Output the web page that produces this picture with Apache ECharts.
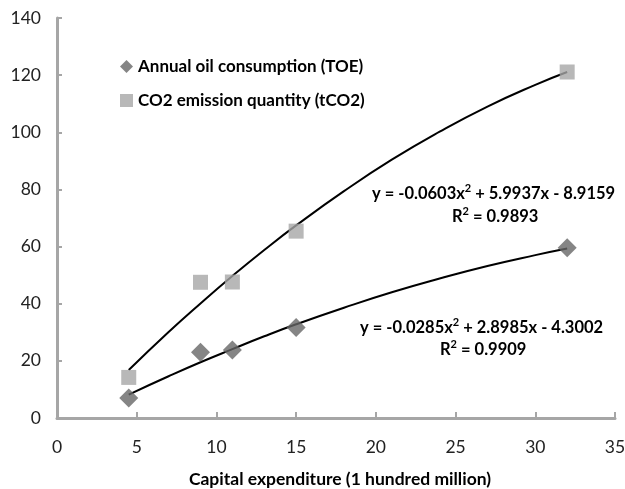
<!DOCTYPE html>
<html><head><meta charset="utf-8">
<script src="https://cdn.jsdelivr.net/npm/echarts@6/dist/echarts.min.js"></script>
<style>html,body{margin:0;padding:0;background:#fff}#c{width:625px;height:489px}</style>
</head><body><div id="c"></div>
<script>
const xValues = [4.5, 9, 11, 15, 32];
const oilValues = [7, 23, 23.8, 31.7, 59.6];
const co2Values = [14.2, 47.5, 47.6, 65.4, 121.1];
const trendX = [4.5, 7, 9, 11, 13, 15, 18, 21, 24, 27, 30, 32];
const co2Trend = [16.8, 30.1, 40.1, 49.7, 58.8, 67.4, 79.4, 90.4, 100.2, 109.0, 116.6, 121.1];
const oilTrend = [8.2, 14.6, 19.5, 24.1, 28.6, 32.8, 38.6, 44.0, 48.8, 53.2, 57.0, 59.3];
const seriesNames = ['Annual oil consumption (TOE)', 'CO2 emission quantity (tCO2)'];
const xTitle = 'Capital expenditure (1 hundred million)';

const font = 'Lato, "Open Sans", sans-serif';
const chart = echarts.init(document.getElementById('c'));
const pair = (xs, ys) => xs.map((x, i) => [x, ys[i]]);
const eqRich = {
  b: {fontFamily: font, fontWeight: 'bold', fontSize: 16.5, fill: '#000', lineHeight: 22},
  sup: {fontFamily: font, fontWeight: 'bold', fontSize: 11, fill: '#000', verticalAlign: 'top', lineHeight: 22, padding: [0,0,6,0]}
};
chart.setOption({
  animation: false,
  grid: {left: 57, right: 10, top: 18, bottom: 71, outerBoundsMode: 'none', containLabel: false},
  xAxis: {
    type: 'value', min: 0, max: 35, interval: 5,
    name: xTitle, nameLocation: 'middle', nameGap: 52,
    nameTextStyle: {fontFamily: font, fontWeight: 'bold', fontSize: 17.5, color: '#000', padding: [0,0,0,8]},
    axisLine: {lineStyle: {color: '#a6a6a6', width: 3}},
    axisTick: {show: true, inside: true, length: 6, lineStyle: {color: '#a6a6a6', width: 2}},
    axisLabel: {fontFamily: font, fontSize: 17.5, color: '#222', margin: 20},
    splitLine: {show: false}
  },
  yAxis: {
    type: 'value', min: 0, max: 140, interval: 20,
    axisLine: {show: true, lineStyle: {color: '#a6a6a6', width: 3}},
    axisTick: {show: true, inside: true, length: 5, lineStyle: {color: '#a6a6a6', width: 2}},
    axisLabel: {fontFamily: font, fontSize: 17.5, color: '#222', margin: 16},
    splitLine: {show: false}
  },
  legend: {
    orient: 'vertical', left: 115, top: 53, itemGap: 17, itemWidth: 13, itemHeight: 13,
    data: [{name: seriesNames[0], icon: 'diamond'}, {name: seriesNames[1], icon: 'rect'}],
    textStyle: {fontFamily: font, fontWeight: 'bold', fontSize: 17, color: '#000'}
  },
  series: [
    {type: 'line', data: pair(trendX, co2Trend), smooth: true, showSymbol: false, silent: true,
     lineStyle: {color: '#000', width: 2}, z: 1},
    {type: 'line', data: pair(trendX, oilTrend), smooth: true, showSymbol: false, silent: true,
     lineStyle: {color: '#000', width: 2}, z: 1},
    {name: seriesNames[0], type: 'scatter', data: pair(xValues, oilValues), symbol: 'diamond',
     symbolSize: 19, itemStyle: {color: '#666666'}, z: 3},
    {name: seriesNames[1], type: 'scatter', data: pair(xValues, co2Values), symbol: 'rect',
     symbolSize: 15, itemStyle: {color: '#a6a6a6'}, z: 3}
  ],
  graphic: [
    {type: 'text', left: 372, top: 183, style: {rich: eqRich, text: '{b|y = -0.0603x}{sup|2}{b| + 5.9937x - 8.9159}'}},
    {type: 'text', left: 452, top: 206, style: {rich: eqRich, text: '{b|R}{sup|2}{b| = 0.9893}'}},
    {type: 'text', left: 360, top: 317, style: {rich: eqRich, text: '{b|y = -0.0285x}{sup|2}{b| + 2.8985x - 4.3002}'}},
    {type: 'text', left: 440, top: 339, style: {rich: eqRich, text: '{b|R}{sup|2}{b| = 0.9909}'}}
  ]
});
</script></body></html>
